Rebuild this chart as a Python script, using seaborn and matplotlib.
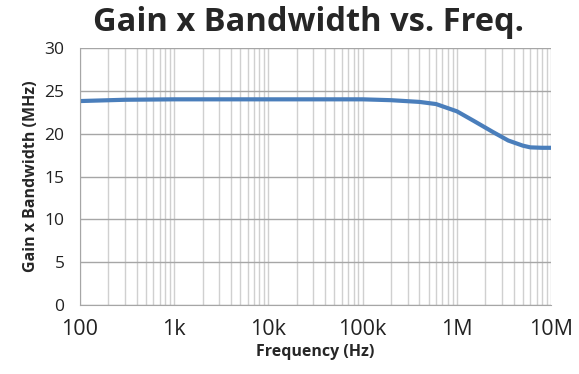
import matplotlib
matplotlib.use("Agg")
import matplotlib.pyplot as plt
import seaborn as sns
import pandas as pd
from matplotlib.ticker import LogLocator, FixedLocator, NullFormatter

freq_hz = [100, 300, 1000, 10000, 100000, 200000, 400000, 600000, 1000000, 1500000, 2400000, 3500000, 5000000, 6000000, 8000000, 10000000]
gbw_mhz = [23.8, 23.95, 24.0, 24.0, 24.0, 23.9, 23.7, 23.45, 22.6, 21.5, 20.2, 19.2, 18.6, 18.4, 18.35, 18.35]
x_tick_vals = [100, 1000, 10000, 100000, 1000000, 10000000]
x_tick_labels = ["100", "1k", "10k", "100k", "1M", "10M"]
y_ticks = [0, 5, 10, 15, 20, 25, 30]

df = pd.DataFrame({"freq": freq_hz, "gbw": gbw_mhz})

sns.set_style("white")
plt.rcParams['font.family'] = ['Open Sans', 'DejaVu Sans']

fig = plt.figure(figsize=(5.79, 3.74), dpi=100)
ax = fig.add_axes([0.138, 0.184, 0.814, 0.688])

sns.lineplot(data=df, x="freq", y="gbw", ax=ax, color="#4A7EBB", linewidth=3.0)
ax.set_xscale("log")
ax.set_xlim(100, 1e7)
ax.set_ylim(0, 30)

ax.xaxis.set_major_locator(FixedLocator(x_tick_vals))
ax.set_xticklabels(x_tick_labels, fontsize=15.5, color="#222222")
ax.xaxis.set_minor_locator(LogLocator(base=10, subs=range(2, 10), numticks=20))
ax.xaxis.set_minor_formatter(NullFormatter())
ax.set_yticks(y_ticks)
ax.set_yticklabels([str(v) for v in y_ticks], fontsize=12.5, color="#222222")

ax.grid(axis="x", which="both", color="#D0D0D0", linewidth=1.0)
ax.grid(axis="y", which="major", color="#A6A6A6", linewidth=1.0)
ax.set_axisbelow(True)

for s in ["top", "right"]:
    ax.spines[s].set_visible(False)
ax.spines["left"].set_color("#A6A6A6")
ax.spines["bottom"].set_color("#A6A6A6")
ax.tick_params(axis="x", which="major", direction="out", length=5, color="#A6A6A6", pad=5)
ax.tick_params(axis="x", which="minor", length=0)
ax.tick_params(axis="y", which="major", direction="out", length=7, color="#A6A6A6", pad=4)

ax.set_xlabel("Frequency (Hz)", fontsize=11.5, fontweight="bold", labelpad=3)
ax.set_ylabel("Gain x Bandwidth (MHz)", fontsize=11.5, fontweight="bold", labelpad=4)
fig.text(0.532, 0.94, "Gain x Bandwidth vs. Freq.", fontsize=23.5, fontweight="bold",
         ha="center", va="center")

fig.savefig("out.png", dpi=100)
